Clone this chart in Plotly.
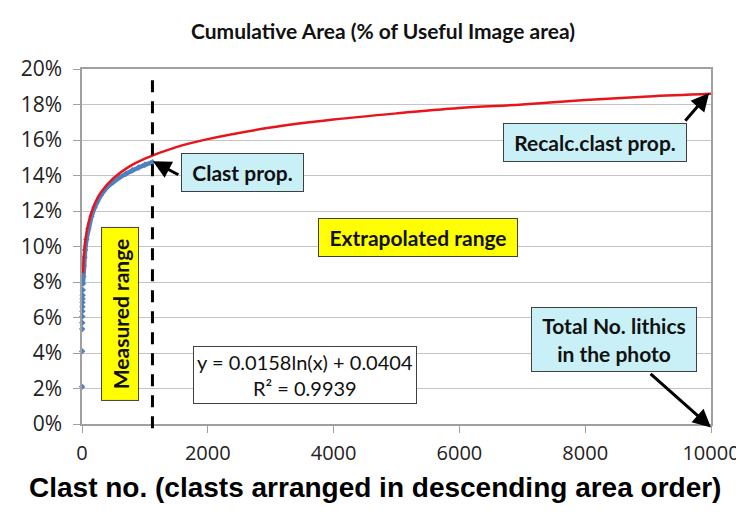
import plotly.graph_objects as go

# ---- data ----
measured_x = [1, 2, 3, 4, 5, 6, 7, 8, 9, 10, 12, 15, 20, 30, 40, 50, 70, 100, 150,
              200, 300, 400, 500, 600, 700, 800, 900, 1000, 1120]
measured_y = [0.021, 0.041, 0.0535, 0.057, 0.0605, 0.0635, 0.066, 0.0685, 0.0705, 0.0725,
              0.0755, 0.079, 0.083, 0.089, 0.094, 0.098, 0.104, 0.110, 0.117,
              0.122, 0.129, 0.1335, 0.1365, 0.139, 0.141, 0.143, 0.1445, 0.146, 0.1475]
dense_from = 11  # index from which the measured points merge into a continuous band

trend_x = [17, 30, 50, 100, 200, 300, 500, 750, 1000, 1500, 2000, 3000, 4000, 5000,
           6000, 7000, 8000, 9000, 10000]
trend_y = [0.085, 0.094, 0.102, 0.113, 0.124, 0.1305, 0.1385, 0.145, 0.1495, 0.156,
           0.1605, 0.167, 0.1715, 0.175, 0.178, 0.180, 0.1825, 0.1845, 0.186]

measured_end = 1120
total_clasts = 10000

x_ticks = [0, 2000, 4000, 6000, 8000, 10000]
x_tick_labels = ["0", "2000", "4000", "6000", "8000", "10000"]
y_ticks = [0, 0.02, 0.04, 0.06, 0.08, 0.10, 0.12, 0.14, 0.16, 0.18, 0.20]

chart_title = "Cumulative Area (% of Useful Image area)"
x_title = "Clast no. (clasts arranged in descending area order)"

CAL = "Lato"
BLUE = "#4F81BD"
fig = go.Figure()

fig.add_trace(go.Scatter(
    x=measured_x[dense_from:], y=measured_y[dense_from:], mode="lines",
    line=dict(color=BLUE, width=4.5),
    showlegend=False, cliponaxis=False, hoverinfo="skip"))
fig.add_trace(go.Scatter(
    x=measured_x, y=measured_y, mode="markers",
    marker=dict(color=BLUE, size=5, symbol="diamond"),
    showlegend=False, cliponaxis=False))

fig.add_trace(go.Scatter(
    x=trend_x, y=trend_y, mode="lines", line_shape="spline",
    line=dict(color="#E8141B", width=2.5),
    showlegend=False))

fig.add_shape(type="line", xref="x", yref="paper",
              x0=measured_end, x1=measured_end, y0=-0.012, y1=0.985,
              line=dict(color="black", width=3, dash="12px,9px"))

def box(text, x, y, w, h, bg, bold=True, angle=0, size=21):
    t = f"<b>{text}</b>" if bold else text
    fig.add_annotation(x=x, y=y, xref="x", yref="y", text=t, showarrow=False,
                       bgcolor=bg, bordercolor="#404040", borderwidth=1, borderpad=1,
                       width=w, height=h, textangle=angle,
                       font=dict(family=CAL, size=size, color="#111111"),
                       xanchor="center", yanchor="middle")

box("Clast prop.", 2552, 0.1417, 119, 35, "#C9F0F7")
box("Measured range", 604, 0.062, 170, 34, "#FFFF00", angle=-90)
box("Extrapolated range", 5342, 0.1051, 196, 35, "#FFFF00")
box("Recalc.clast prop.", 8156, 0.1586, 180, 35, "#C9F0F7")
box("Total No. lithics<br>in the photo", 8458, 0.0476, 162, 61, "#C9F0F7")
box("y = 0.0158ln(x) + 0.0404<br>R² = 0.9939", 3545, 0.0276, 220, 54, "white",
    bold=False, size=20)

def arrow(x, y, ax, ay):
    fig.add_annotation(x=x, y=y, ax=ax, ay=ay, xref="x", yref="y", axref="x", ayref="y",
                       text="", showarrow=True, arrowhead=2, arrowsize=1.2,
                       arrowwidth=3, arrowcolor="black", standoff=0)

arrow(1127, 0.148, 1556, 0.140)
arrow(9970, 0.1865, 9571, 0.170)
arrow(10000, -0.002, 9016, 0.029)

# x-axis title (offset to the left of the plot centre, as in the reference)
fig.add_annotation(text=f"<b>{x_title}</b>", xref="paper", yref="paper",
                   x=0.4658, y=-0.18, xanchor="center", yanchor="middle",
                   showarrow=False,
                   font=dict(family="Liberation Sans", size=28, color="black"))

fig.update_layout(
    width=736, height=499,
    margin=dict(l=74, r=33, t=61, b=83, autoexpand=False),
    paper_bgcolor="white", plot_bgcolor="white",
    title=dict(text=f"<b>{chart_title}</b>", x=375 / 736, xanchor="center",
               y=1 - 24 / 499, yanchor="middle",
               font=dict(family=CAL, size=21, color="#111111")),
    xaxis=dict(range=[0, total_clasts], tickvals=x_ticks, ticktext=x_tick_labels,
               showgrid=False, automargin=False,
               showline=True, linecolor="#A0A0A0", linewidth=1.5, mirror=True,
               ticks="outside", ticklen=7, tickcolor="#A0A0A0",
               ticklabelstandoff=3,
               tickfont=dict(family="Open Sans", size=20, color="#222222"),
               zeroline=False),
    yaxis=dict(range=[0, 0.20], tickvals=y_ticks, tickformat=".0%", automargin=False,
               showgrid=True, gridcolor="#C4C4C4", gridwidth=1.2,
               showline=True, linecolor="#A0A0A0", linewidth=1.5, mirror=True,
               ticks="outside", ticklen=7, tickcolor="#A0A0A0",
               ticklabelstandoff=7,
               tickfont=dict(family="Open Sans", size=21, color="#222222"),
               zeroline=False),
)

fig.write_html("out.html")
